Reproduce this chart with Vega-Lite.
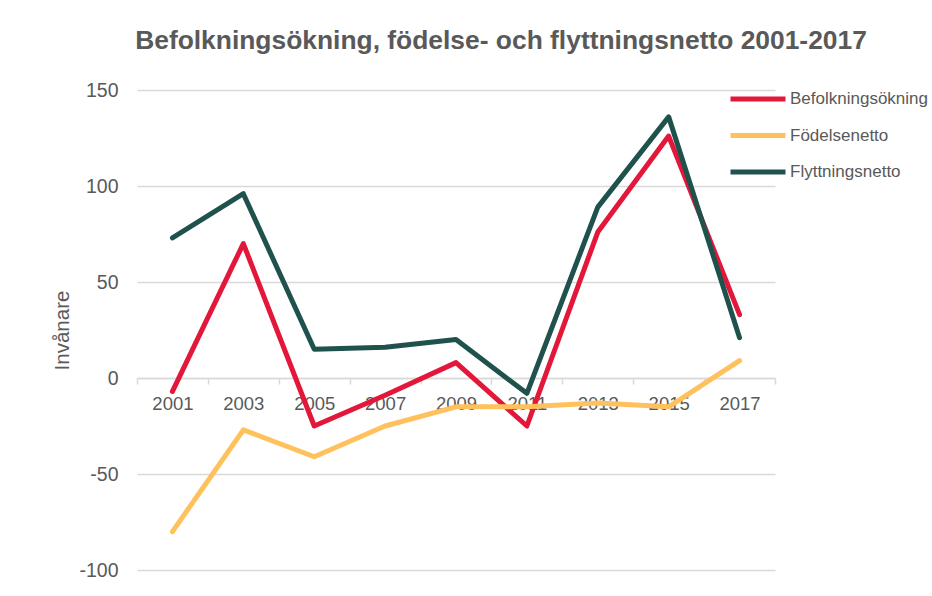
{
  "$schema": "https://vega.github.io/schema/vega-lite/v6.json",
  "width": 638,
  "height": 480,
  "autosize": {"type": "none"},
  "padding": {"left": 137, "top": 90, "right": 157, "bottom": 26},
  "background": "white",
  "title": {
    "text": "Befolkningsökning, födelse- och flyttningsnetto 2001-2017",
    "font": "Liberation Sans",
    "fontSize": 26.4,
    "fontWeight": "bold",
    "color": "#595959",
    "anchor": "middle",
    "dx": 45,
    "offset": 26
  },
  "data": {
    "values": [
      {"year": "2001", "serie": "Befolkningsökning", "value": -7},
      {"year": "2003", "serie": "Befolkningsökning", "value": 70},
      {"year": "2005", "serie": "Befolkningsökning", "value": -25},
      {"year": "2007", "serie": "Befolkningsökning", "value": -9},
      {"year": "2009", "serie": "Befolkningsökning", "value": 8},
      {"year": "2011", "serie": "Befolkningsökning", "value": -25},
      {"year": "2013", "serie": "Befolkningsökning", "value": 76},
      {"year": "2015", "serie": "Befolkningsökning", "value": 126},
      {"year": "2017", "serie": "Befolkningsökning", "value": 33},
      {"year": "2001", "serie": "Födelsenetto", "value": -80},
      {"year": "2003", "serie": "Födelsenetto", "value": -27},
      {"year": "2005", "serie": "Födelsenetto", "value": -41},
      {"year": "2007", "serie": "Födelsenetto", "value": -25},
      {"year": "2009", "serie": "Födelsenetto", "value": -15},
      {"year": "2011", "serie": "Födelsenetto", "value": -15},
      {"year": "2013", "serie": "Födelsenetto", "value": -13},
      {"year": "2015", "serie": "Födelsenetto", "value": -15},
      {"year": "2017", "serie": "Födelsenetto", "value": 9},
      {"year": "2001", "serie": "Flyttningsnetto", "value": 73},
      {"year": "2003", "serie": "Flyttningsnetto", "value": 96},
      {"year": "2005", "serie": "Flyttningsnetto", "value": 15},
      {"year": "2007", "serie": "Flyttningsnetto", "value": 16},
      {"year": "2009", "serie": "Flyttningsnetto", "value": 20},
      {"year": "2011", "serie": "Flyttningsnetto", "value": -8},
      {"year": "2013", "serie": "Flyttningsnetto", "value": 89},
      {"year": "2015", "serie": "Flyttningsnetto", "value": 136},
      {"year": "2017", "serie": "Flyttningsnetto", "value": 21}
    ]
  },
  "mark": {"type": "line", "strokeWidth": 5, "strokeCap": "round", "strokeJoin": "round"},
  "encoding": {
    "x": {
      "field": "year",
      "type": "ordinal",
      "scale": {"type": "band", "paddingInner": 0, "paddingOuter": 0},
      "axis": {
        "title": null,
        "offset": -192,
        "tickBand": "extent",
        "tickSize": 6,
        "tickWidth": 1.5,
        "tickColor": "#d9d9d9",
        "domainColor": "#d9d9d9",
        "domainWidth": 1.5,
        "labelAngle": 0,
        "labelFont": "Liberation Sans",
        "labelFontSize": 18.5,
        "labelColor": "#595959",
        "labelPadding": 10,
        "grid": false
      }
    },
    "y": {
      "field": "value",
      "type": "quantitative",
      "scale": {"domain": [-100, 150], "nice": false, "zero": false},
      "axis": {
        "title": "Invånare",
        "titleFont": "Liberation Sans",
        "titleFontSize": 20.5,
        "titleFontWeight": "normal",
        "titleColor": "#595959",
        "titlePadding": 6,
        "values": [-100, -50, 0, 50, 100, 150],
        "labelExpr": "'' + datum.value",
        "grid": true,
        "gridColor": "#d9d9d9",
        "gridWidth": 1.5,
        "domain": false,
        "ticks": false,
        "labelFont": "Liberation Sans",
        "labelFontSize": 19.5,
        "labelColor": "#595959",
        "labelPadding": 19
      }
    },
    "color": {
      "field": "serie",
      "type": "nominal",
      "sort": ["Befolkningsökning", "Födelsenetto", "Flyttningsnetto"],
      "scale": {
        "domain": ["Befolkningsökning", "Födelsenetto", "Flyttningsnetto"],
        "range": ["#e2173a", "#ffc15c", "#1f524d"]
      },
      "legend": {
        "title": null,
        "orient": "none",
        "legendX": 609,
        "legendY": -3,
        "padding": 0,
        "symbolType": "M-3,0H3",
        "symbolSize": 336,
        "symbolStrokeWidth": 5,
        "labelOffset": 20,
        "rowPadding": 14.5,
        "labelFont": "Liberation Sans",
        "labelFontSize": 17,
        "labelColor": "#595959",
        "labelLimit": 400
      }
    }
  },
  "config": {"view": {"stroke": null}}
}
